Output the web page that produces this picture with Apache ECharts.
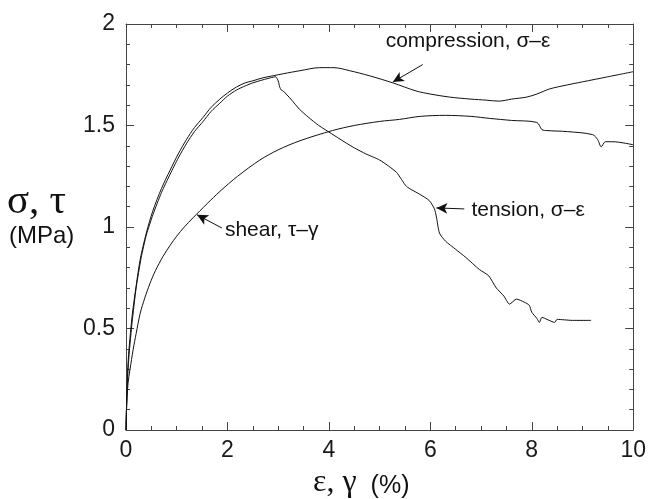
<!DOCTYPE html>
<html><head><meta charset="utf-8">
<script src="https://cdn.jsdelivr.net/npm/echarts@6/dist/echarts.min.js"></script>
<style>html,body{margin:0;padding:0;background:#fff}#c{width:649px;height:499px}</style>
</head><body><div id="c"></div>
<script>
// ---- data (strain %, stress MPa) ----
const compX = [0,0.01,0.03,0.06,0.12,0.2,0.28,0.4,0.53,0.7,0.87,1.03,1.19,1.35,1.52,1.68,1.85,2.0,2.18,2.35,2.5,2.7,2.9,3.1,3.43,3.82,4.1,4.41,4.8,5.26,5.72,6.0,6.38,6.8,7.1,7.35,7.6,7.9,8.1,8.35,8.7,9.0,9.5,10.0];
const compY = [0,0.12,0.28,0.4,0.56,0.71,0.84,0.97,1.08,1.19,1.28,1.36,1.43,1.49,1.54,1.59,1.63,1.66,1.69,1.71,1.72,1.735,1.745,1.755,1.77,1.785,1.785,1.77,1.745,1.71,1.67,1.655,1.64,1.63,1.625,1.62,1.63,1.64,1.655,1.68,1.70,1.715,1.74,1.765];

const tensX = [0,0.01,0.03,0.06,0.12,0.2,0.3,0.4,0.53,0.7,0.87,1.03,1.19,1.35,1.52,1.68,1.85,2.0,2.18,2.35,2.5,2.7,2.85,2.95,3.0,3.03,3.06,3.1,3.25,3.42,3.6,3.8,4.05,4.3,4.5,4.73,5.0,5.33,5.53,5.8,5.98,6.08,6.12,6.18,6.3,6.5,6.7,6.97,7.15,7.3,7.45,7.56,7.7,7.85,7.95,8.0,8.1,8.15,8.2,8.3,8.45,8.5,8.8,9.17];
const tensY = [0,0.1,0.25,0.37,0.53,0.7,0.85,0.96,1.06,1.17,1.26,1.34,1.41,1.47,1.52,1.57,1.61,1.645,1.675,1.695,1.71,1.725,1.735,1.74,1.72,1.69,1.675,1.67,1.63,1.58,1.54,1.5,1.46,1.42,1.39,1.36,1.33,1.27,1.2,1.16,1.13,1.09,1.05,0.97,0.93,0.89,0.85,0.79,0.76,0.7,0.66,0.62,0.645,0.63,0.615,0.58,0.55,0.53,0.555,0.545,0.53,0.545,0.54,0.54];

const shearX = [0,0.01,0.04,0.08,0.14,0.2,0.28,0.37,0.47,0.58,0.73,0.87,1.0,1.15,1.32,1.6,1.85,2.2,2.64,3.0,3.43,4.07,4.5,5.0,5.39,5.8,6.3,6.8,7.17,7.6,8.1,8.2,8.3,8.7,9.2,9.3,9.37,9.45,9.6,10.0];
const shearY = [0,0.1,0.23,0.30,0.395,0.475,0.575,0.65,0.72,0.785,0.855,0.91,0.955,1.0,1.045,1.115,1.175,1.25,1.33,1.38,1.425,1.475,1.5,1.52,1.53,1.545,1.55,1.545,1.535,1.525,1.515,1.48,1.475,1.47,1.455,1.43,1.395,1.42,1.42,1.405];

const xTicks = [0,2,4,6,8,10];
const yTicks = [0,0.5,1,1.5,2];

// annotations: label, text anchor (data), arrow start, arrow end (data)
const annTexts = ['compression, σ–ε','tension, σ–ε','shear, τ–γ'];
const annTextPos = [[5.12,1.906],[6.81,1.074],[1.95,0.975]];
const annArrowFrom = [[5.85,1.80],[6.67,1.089],[1.89,0.995]];
const annArrowTo = [[5.26,1.714],[6.12,1.094],[1.40,1.06]];

const zip = (a,b)=>a.map((v,i)=>[v,b[i]]);
const chart = echarts.init(document.getElementById('c'));
const axCol = '#444';
const sans = '"Liberation Sans", Arial, sans-serif';
const serif = '"Liberation Serif", "DejaVu Serif", serif';
function xAx(pos, lbl){return {type:'value',position:pos,min:0,max:10,interval:2,
  axisLine:{show:true,onZero:false,lineStyle:{color:axCol,width:1}},
  axisTick:{show:true,inside:true,length:8,lineStyle:{color:axCol}},
  minorTick:{show:true,splitNumber:4,length:4,lineStyle:{color:axCol}},
  splitLine:{show:false},
  axisLabel:{show:lbl,fontFamily:sans,fontSize:23,color:'#1a1a1a',margin:9,
    formatter:v=>xTicks.includes(v)?String(v):''}};}
function yAx(pos, lbl){return {type:'value',position:pos,min:0,max:2,interval:0.5,
  axisLine:{show:true,onZero:false,lineStyle:{color:axCol,width:1}},
  axisTick:{show:true,inside:true,length:8,lineStyle:{color:axCol}},
  minorTick:{show:true,splitNumber:5,length:4,lineStyle:{color:axCol}},
  splitLine:{show:false},
  axisLabel:{show:lbl,fontFamily:sans,fontSize:23,color:'#1a1a1a',margin:11,
    formatter:v=>yTicks.includes(v)?String(v):''}};}
const lineS = (name,d,sm)=>({name,type:'line',data:d,showSymbol:false,symbol:'none',
  smooth:sm,
  lineStyle:{color:'#111',width:1},xAxisIndex:0,yAxisIndex:0,silent:true});

chart.setOption({
  animation:false,
  backgroundColor:'#fff',
  grid:{left:126,right:15,top:24,bottom:69},
  xAxis:[xAx('bottom',true),xAx('top',false)],
  yAxis:[yAx('left',true),yAx('right',false)],
  series:[
    lineS('compression',zip(compX,compY),0.3),
    lineS('tension',zip(tensX,tensY),0.2),
    lineS('shear',zip(shearX,shearY),0.3),
    {type:'line',data:[],xAxisIndex:0,yAxisIndex:0,silent:true,
     markLine:{silent:true,animation:false,symbol:['none','arrow'],symbolSize:[8,11],
       label:{show:false},lineStyle:{color:'#111',width:1,type:'solid'},
       data:annArrowFrom.map((f,i)=>[{coord:f},{coord:annArrowTo[i]}])}}
  ]
});

const g = [];
annTexts.forEach((t,i)=>{
  const p = chart.convertToPixel({gridIndex:0}, annTextPos[i]);
  g.push({type:'text',left:p[0],top:p[1]-12,style:{text:t,font:'21px '+sans,fill:'#111'}});
});
g.push({type:'text',left:7,top:182,style:{text:'σ, τ',font:'41px '+serif,fill:'#111'}});
g.push({type:'text',left:9,top:224,style:{text:'(MPa)',font:'24px '+sans,fill:'#111'}});
g.push({type:'text',left:313,top:467,style:{
  text:'{a|ε, γ}{b|(%)}',
  rich:{a:{font:'32px '+serif,fill:'#111',verticalAlign:'bottom'},b:{font:'25px '+sans,fill:'#111',verticalAlign:'bottom',padding:[0,0,0,14]}}}});
chart.setOption({graphic:g});
</script></body></html>
